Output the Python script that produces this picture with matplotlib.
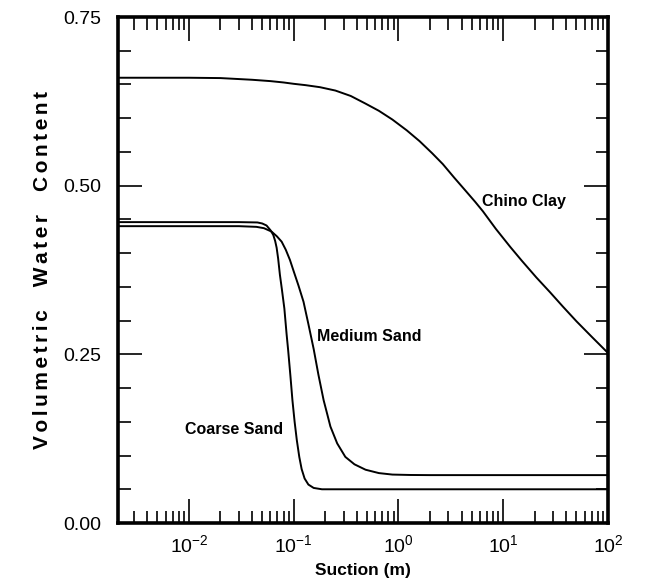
import matplotlib
matplotlib.use('Agg')
from matplotlib import pyplot as plt
from matplotlib.ticker import LogLocator, MultipleLocator, NullFormatter
import numpy as np

plt.rcParams['font.family'] = ['Liberation Sans', 'DejaVu Sans']
plt.rcParams['mathtext.fontset'] = 'custom'
plt.rcParams['mathtext.rm'] = 'Liberation Sans'

# values (suction in m, volumetric water content)
clay_x = [0.002, 0.01, 0.02, 0.04, 0.06, 0.08, 0.1, 0.13, 0.178, 0.25, 0.35, 0.48, 0.65, 0.875,
          1.2, 1.59, 2.1, 2.65, 3.4, 4.4, 5.4, 6.4, 8.5, 11.7, 15, 20.7, 28, 37, 50, 70, 100]
clay_y = [0.660, 0.660, 0.6595, 0.657, 0.655, 0.653, 0.651, 0.649, 0.646, 0.641, 0.633, 0.622, 0.611, 0.598,
          0.582, 0.566, 0.548, 0.532, 0.512, 0.492, 0.476, 0.462, 0.436, 0.409, 0.389, 0.364, 0.342, 0.321, 0.299, 0.276, 0.252]

medium_x = [0.002, 0.03, 0.044, 0.052, 0.0614, 0.069, 0.0767, 0.084, 0.092, 0.1, 0.111, 0.124, 0.138,
            0.155, 0.172, 0.193, 0.21, 0.224, 0.26, 0.311, 0.38, 0.485, 0.65, 0.875, 1.3, 2.0, 100]
medium_y = [0.440, 0.440, 0.439, 0.437, 0.432, 0.425, 0.417, 0.405, 0.390, 0.373, 0.352, 0.328, 0.295,
            0.258, 0.220, 0.182, 0.160, 0.143, 0.118, 0.098, 0.087, 0.079, 0.074, 0.0718, 0.0712, 0.071, 0.071]

coarse_x = [0.002, 0.03, 0.045, 0.05, 0.055, 0.06, 0.0638, 0.0665, 0.0687, 0.071, 0.0738, 0.077, 0.0814,
            0.0855, 0.0885, 0.093, 0.0972, 0.102, 0.107, 0.113, 0.119, 0.127, 0.138, 0.155, 0.186, 0.3, 100]
coarse_y = [0.446, 0.446, 0.4455, 0.444, 0.441, 0.434, 0.427, 0.418, 0.408, 0.392, 0.368, 0.347, 0.318,
            0.280, 0.256, 0.218, 0.182, 0.150, 0.123, 0.098, 0.080, 0.066, 0.057, 0.052, 0.050, 0.050, 0.050]

labels = ['Chino Clay', 'Medium Sand', 'Coarse Sand']
label_x = [6.3, 0.168, 0.0091]
label_y = [0.477, 0.276, 0.138]

fig = plt.figure(figsize=(6.59, 5.81), dpi=100)
ax = fig.add_axes([0.179, 0.0998, 0.7436, 0.8709])

for xs, ys in [(clay_x, clay_y), (medium_x, medium_y), (coarse_x, coarse_y)]:
    ax.plot(xs, ys, color='black', lw=1.4)

for t, x, y in zip(labels, label_x, label_y):
    ax.text(x, y, t, fontsize=11.5, fontweight='bold', va='center', ha='left')

ax.set_xscale('log')
ax.set_xlim(0.0021, 100)
ax.set_ylim(0, 0.75)
ax.set_yticks([0, 0.25, 0.5, 0.75])
ax.set_yticklabels(['0.00', '0.25', '0.50', '0.75'])
ax.yaxis.set_minor_locator(MultipleLocator(0.05))
ax.xaxis.set_major_locator(LogLocator(base=10, numticks=10))
ax.xaxis.set_minor_locator(LogLocator(base=10, subs=np.arange(2, 10), numticks=20))
ax.xaxis.set_minor_formatter(NullFormatter())

ax.tick_params(which='both', direction='in', top=True, right=True, labelsize=14)
ax.tick_params(axis='y', pad=12)
ax.tick_params(axis='x', pad=8)
ax.tick_params(which='major', length=17, width=1.2)
ax.tick_params(which='minor', length=9, width=1.2)
for s in ax.spines.values():
    s.set_linewidth(2.6)

ax.set_xlabel('Suction (m)', fontsize=12.5, fontweight='bold', labelpad=5)
# the reference label is set with loose letter spacing
ylab = '    '.join('\u200a\u200a'.join(w) for w in ['Volumetric', 'Water', 'Content'])
ax.set_ylabel(ylab, fontsize=15, fontweight='bold', labelpad=8)

fig.savefig('out.png', dpi=100)
